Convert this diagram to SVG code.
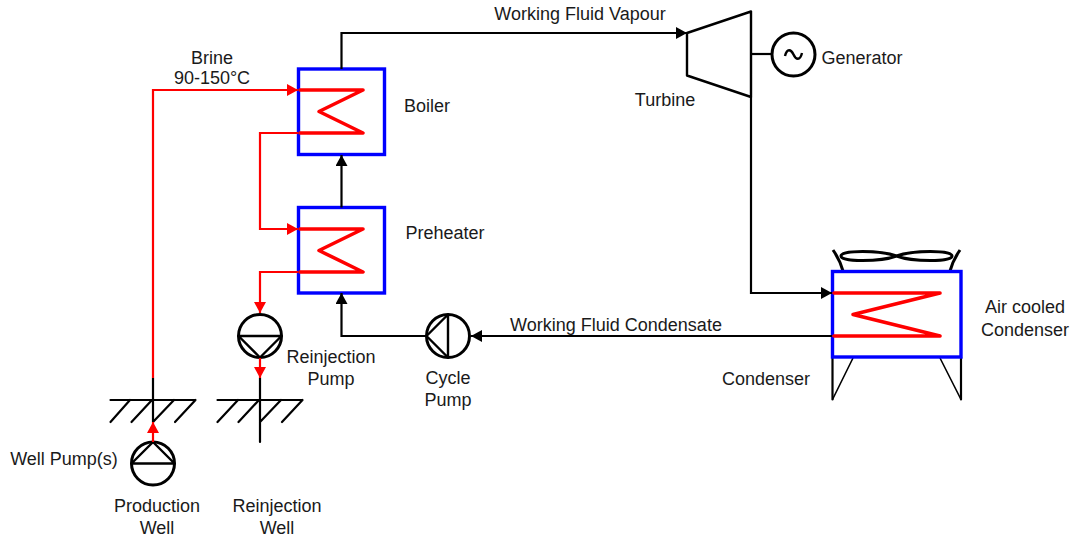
<svg xmlns="http://www.w3.org/2000/svg" width="1078" height="541" viewBox="0 0 1078 541">
<style>
text{font-family:"Liberation Sans",Arial,sans-serif;font-size:18px;fill:#1a1a1a;text-anchor:middle}
.k{fill:none;stroke:#000;stroke-width:2.200}
.r{fill:none;stroke:#f00;stroke-width:2.200}
.c{fill:none;stroke:#f00;stroke-width:3.600;stroke-linejoin:round;stroke-linecap:round}
.b{fill:#fff;stroke:#00f;stroke-width:3.400}
.p{fill:#fff;stroke:#000;stroke-width:3}
.s{fill:none;stroke:#000;stroke-width:2.400;stroke-linejoin:round}
.t{fill:none;stroke:#000;stroke-width:2.200;stroke-linecap:round}
.f{fill:none;stroke:#000;stroke-width:3}
.l{fill:none;stroke:#000;stroke-width:1.600}
</style>
<defs>
<marker id="ak" markerUnits="userSpaceOnUse" markerWidth="12" markerHeight="13" refX="11" refY="6" orient="auto"><path d="M0 0L11 6L0 12Z" fill="#000"/></marker>
<marker id="ar" markerUnits="userSpaceOnUse" markerWidth="12" markerHeight="13" refX="11" refY="6" orient="auto"><path d="M0 0L11 6L0 12Z" fill="#f00"/></marker>
</defs>
<rect width="1078" height="541" fill="#fff"/>
<g id="boiler"><rect class="b" x="298.500" y="69" width="86" height="85.500"/><path class="c" d="M300 90H363L319 111.500L363 133H300"/><text x="427" y="112">Boiler</text></g>
<g id="preheater"><rect class="b" x="298.500" y="207.500" width="86" height="85.500"/><path class="c" d="M300 229H363L319 250.500L363 272H300"/><text x="445" y="239">Preheater</text></g>
<g id="condenser"><path class="f" d="M833 250Q840 260 843 271M960 250Q953 260 950 271"/><path class="f" d="M896.500 256C880 250 841 250 841 256C841 262 880 262 896.500 256C913 250 952 250 952 256C952 262 913 262 896.500 256Z"/><path class="t" d="M832.500 357V399.500M961 357V399.500"/><path class="l" d="M832.500 399.500L853 358M961 399.500L940 358"/><rect class="b" x="832.500" y="271.500" width="128.500" height="85.500"/><path class="c" d="M834 293H940L853 314.500L940 336H834"/><text x="766" y="385">Condenser</text><text x="1025" y="313">Air cooled</text><text x="1025" y="336">Condenser</text></g>
<g id="turbine"><path class="s" d="M687 33L751 11.500V97L687 75.500Z"/><text x="665" y="106">Turbine</text></g>
<g id="generator"><circle cx="793.500" cy="54.500" r="21.500" class="p"/><path class="s" d="M785 56C787 48 791 49 793.500 54.500C796 60 800 61 802 53"/><text x="862" y="64">Generator</text></g>
<g id="cycle-pump"><circle cx="448" cy="336" r="21.500" class="p"/><path class="s" d="M448 314.500V357.500L426.500 336Z"/><text x="448" y="384">Cycle</text><text x="448" y="406">Pump</text></g>
<g id="reinjection-pump"><circle cx="260" cy="336" r="21.500" class="p"/><path class="s" d="M238.500 336H281.500L260 357.500Z"/><text x="331" y="363">Reinjection</text><text x="331" y="385">Pump</text></g>
<g id="well-pump"><circle cx="153" cy="463.500" r="21.500" class="p"/><path class="s" d="M131.500 463.500H174.500L153 442Z"/><text x="64" y="465">Well Pump(s)</text></g>
<g id="production-well"><path class="t" d="M110.500 400H195.500M130 400L110.500 422M152 400L131.500 422M174 400L153 422M195.500 400L175 422M153 378V422"/><text x="157" y="512">Production</text><text x="157" y="534">Well</text></g>
<g id="reinjection-well"><path class="t" d="M217.500 400H302.500M238 400L217.500 422M259 400L238.500 422M281 400L260 422M302.500 400L282 422M260 378V442"/><text x="277" y="512">Reinjection</text><text x="277" y="534">Well</text></g>
<g id="connectors">
<path class="r" d="M153 378V90H298" marker-end="url(#ar)"/>
<path class="r" d="M298 133H260V229H298" marker-end="url(#ar)"/>
<path class="r" d="M298 272H260V313" marker-end="url(#ar)"/>
<path class="r" d="M260 358V378" marker-end="url(#ar)"/>
<path class="r" d="M153 442V422" marker-end="url(#ar)"/>
<path class="k" d="M341.500 69V33H687" marker-end="url(#ak)"/>
<path class="k" d="M341.500 207.500V155" marker-end="url(#ak)"/>
<path class="k" d="M751 54H772"/>
<path class="k" d="M751 97V293H832" marker-end="url(#ak)"/>
<path class="k" d="M832 336H471" marker-end="url(#ak)"/>
<path class="k" d="M426.500 336H341.500V293" marker-end="url(#ak)"/>
</g>
<text x="212" y="64">Brine</text>
<text x="212" y="84">90-150°C</text>
<text x="580" y="20">Working Fluid Vapour</text>
<text x="616" y="331">Working Fluid Condensate</text>
</svg>
